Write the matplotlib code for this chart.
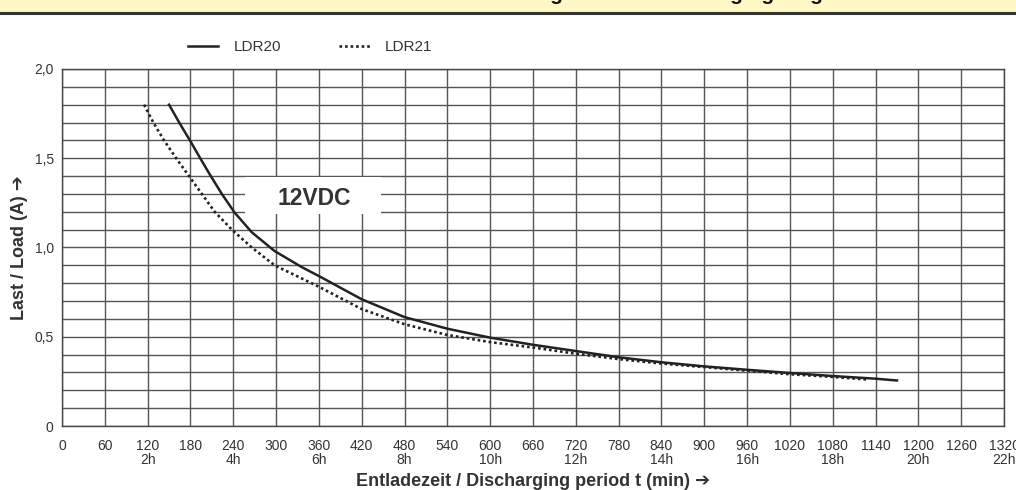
import matplotlib.pyplot as plt
from matplotlib.patches import Rectangle

plt.rcParams['font.family'] = ['Liberation Sans Narrow', 'Liberation Sans', 'DejaVu Sans']

# LDR20 (solid)
ldr20_t = [150, 165, 180, 193, 207, 224, 242, 266, 298, 336, 360, 420, 480, 540, 600,
           660, 720, 780, 840, 900, 960, 1020, 1080, 1140, 1170]
ldr20_a = [1.8, 1.695, 1.595, 1.505, 1.41, 1.3, 1.195, 1.085, 0.98, 0.89, 0.84, 0.71, 0.61, 0.545, 0.495,
           0.455, 0.42, 0.385, 0.357, 0.334, 0.315, 0.297, 0.28, 0.265, 0.255]

# LDR21 (dotted)
ldr21_t = [115, 128, 143, 160, 178, 196, 214, 238, 266, 298, 360, 420, 480, 540, 600,
           660, 720, 780, 840, 900, 960, 1020, 1080, 1130]
ldr21_a = [1.8, 1.7, 1.6, 1.5, 1.4, 1.3, 1.2, 1.1, 1.0, 0.9, 0.78, 0.655, 0.57, 0.51, 0.47,
           0.44, 0.405, 0.375, 0.35, 0.33, 0.31, 0.29, 0.275, 0.26]

x_ticks = list(range(0, 1321, 60))
x_labels = [f"{m}\n{m // 60}h" if m % 120 == 0 and m > 0 else str(m) for m in x_ticks]
y_ticks = [0, 0.5, 1.0, 1.5, 2.0]
y_labels = ["0", "0,5", "1,0", "1,5", "2,0"]

bold = ['Liberation Sans', 'DejaVu Sans']

fig = plt.figure(figsize=(10.16, 4.9), dpi=100)
ax = fig.add_axes([62 / 1016, 1 - 426 / 490, 942 / 1016, 357 / 490])

# banner at the top (cut off in the original)
fig.patches.append(Rectangle((0, 1 - 12 / 490), 1, 12 / 490, transform=fig.transFigure,
                             facecolor='#fff7c4', edgecolor='none'))
fig.lines.append(plt.Line2D([0, 1], [1 - 13 / 490] * 2, transform=fig.transFigure,
                            color='#333333', lw=2.2))
fig.text(0.52, 1 - 0.5 / 490, "Entladekurve / Lastkurve  -  Discharge curve / Discharging diagram",
         ha='center', va='baseline', fontsize=15, fontweight='bold',
         family=bold, color='#111111')

for m in x_ticks:
    ax.axvline(m, color='#555555', lw=1, zorder=1)
for i in range(21):
    ax.axhline(i / 10, color='#555555', lw=1, zorder=1)

ax.add_patch(Rectangle((257, 1.185), 190, 0.21, facecolor='white', edgecolor='none', zorder=2))
ax.text(354, 1.275, "12VDC", ha='center', va='center', fontsize=16.5, fontweight='bold',
        family=bold, color='#333333', zorder=3)

ax.plot(ldr20_t, ldr20_a, color='#222222', lw=1.8, label='LDR20', zorder=4)
ax.plot(ldr21_t, ldr21_a, color='#222222', lw=1.9, ls=(0, (1, 1.1)), label='LDR21', zorder=4)

ax.set_xlim(0, 1320)
ax.set_ylim(0, 2.0)
ax.set_xticks(x_ticks)
ax.set_xticklabels(x_labels, linespacing=1.0)
ax.set_yticks(y_ticks)
ax.set_yticklabels(y_labels)
ax.tick_params(length=0, labelsize=10, colors='#333333')
ax.tick_params(axis='x', pad=9)
ax.tick_params(axis='y', pad=6)
for s in ax.spines.values():
    s.set_color('#444444')
    s.set_linewidth(1)

ax.set_xlabel("Entladezeit / Discharging period t (min) \u2794", fontsize=13, fontweight='bold',
              family=bold, color='#333333', labelpad=5)
ax.set_ylabel("Last / Load (A) \u2794", fontsize=13, fontweight='bold',
              family=bold, color='#333333')
ax.yaxis.set_label_coords(-34 / 942, 0.5)

ax.legend(loc='center left', bbox_to_anchor=(174 / 1016, 1 - 47 / 490),
          bbox_transform=fig.transFigure, ncol=2, frameon=False, fontsize=11,
          handlelength=2.0, handletextpad=1.0, columnspacing=3.8, labelcolor='#333333')

fig.savefig('out.png', dpi=100)
